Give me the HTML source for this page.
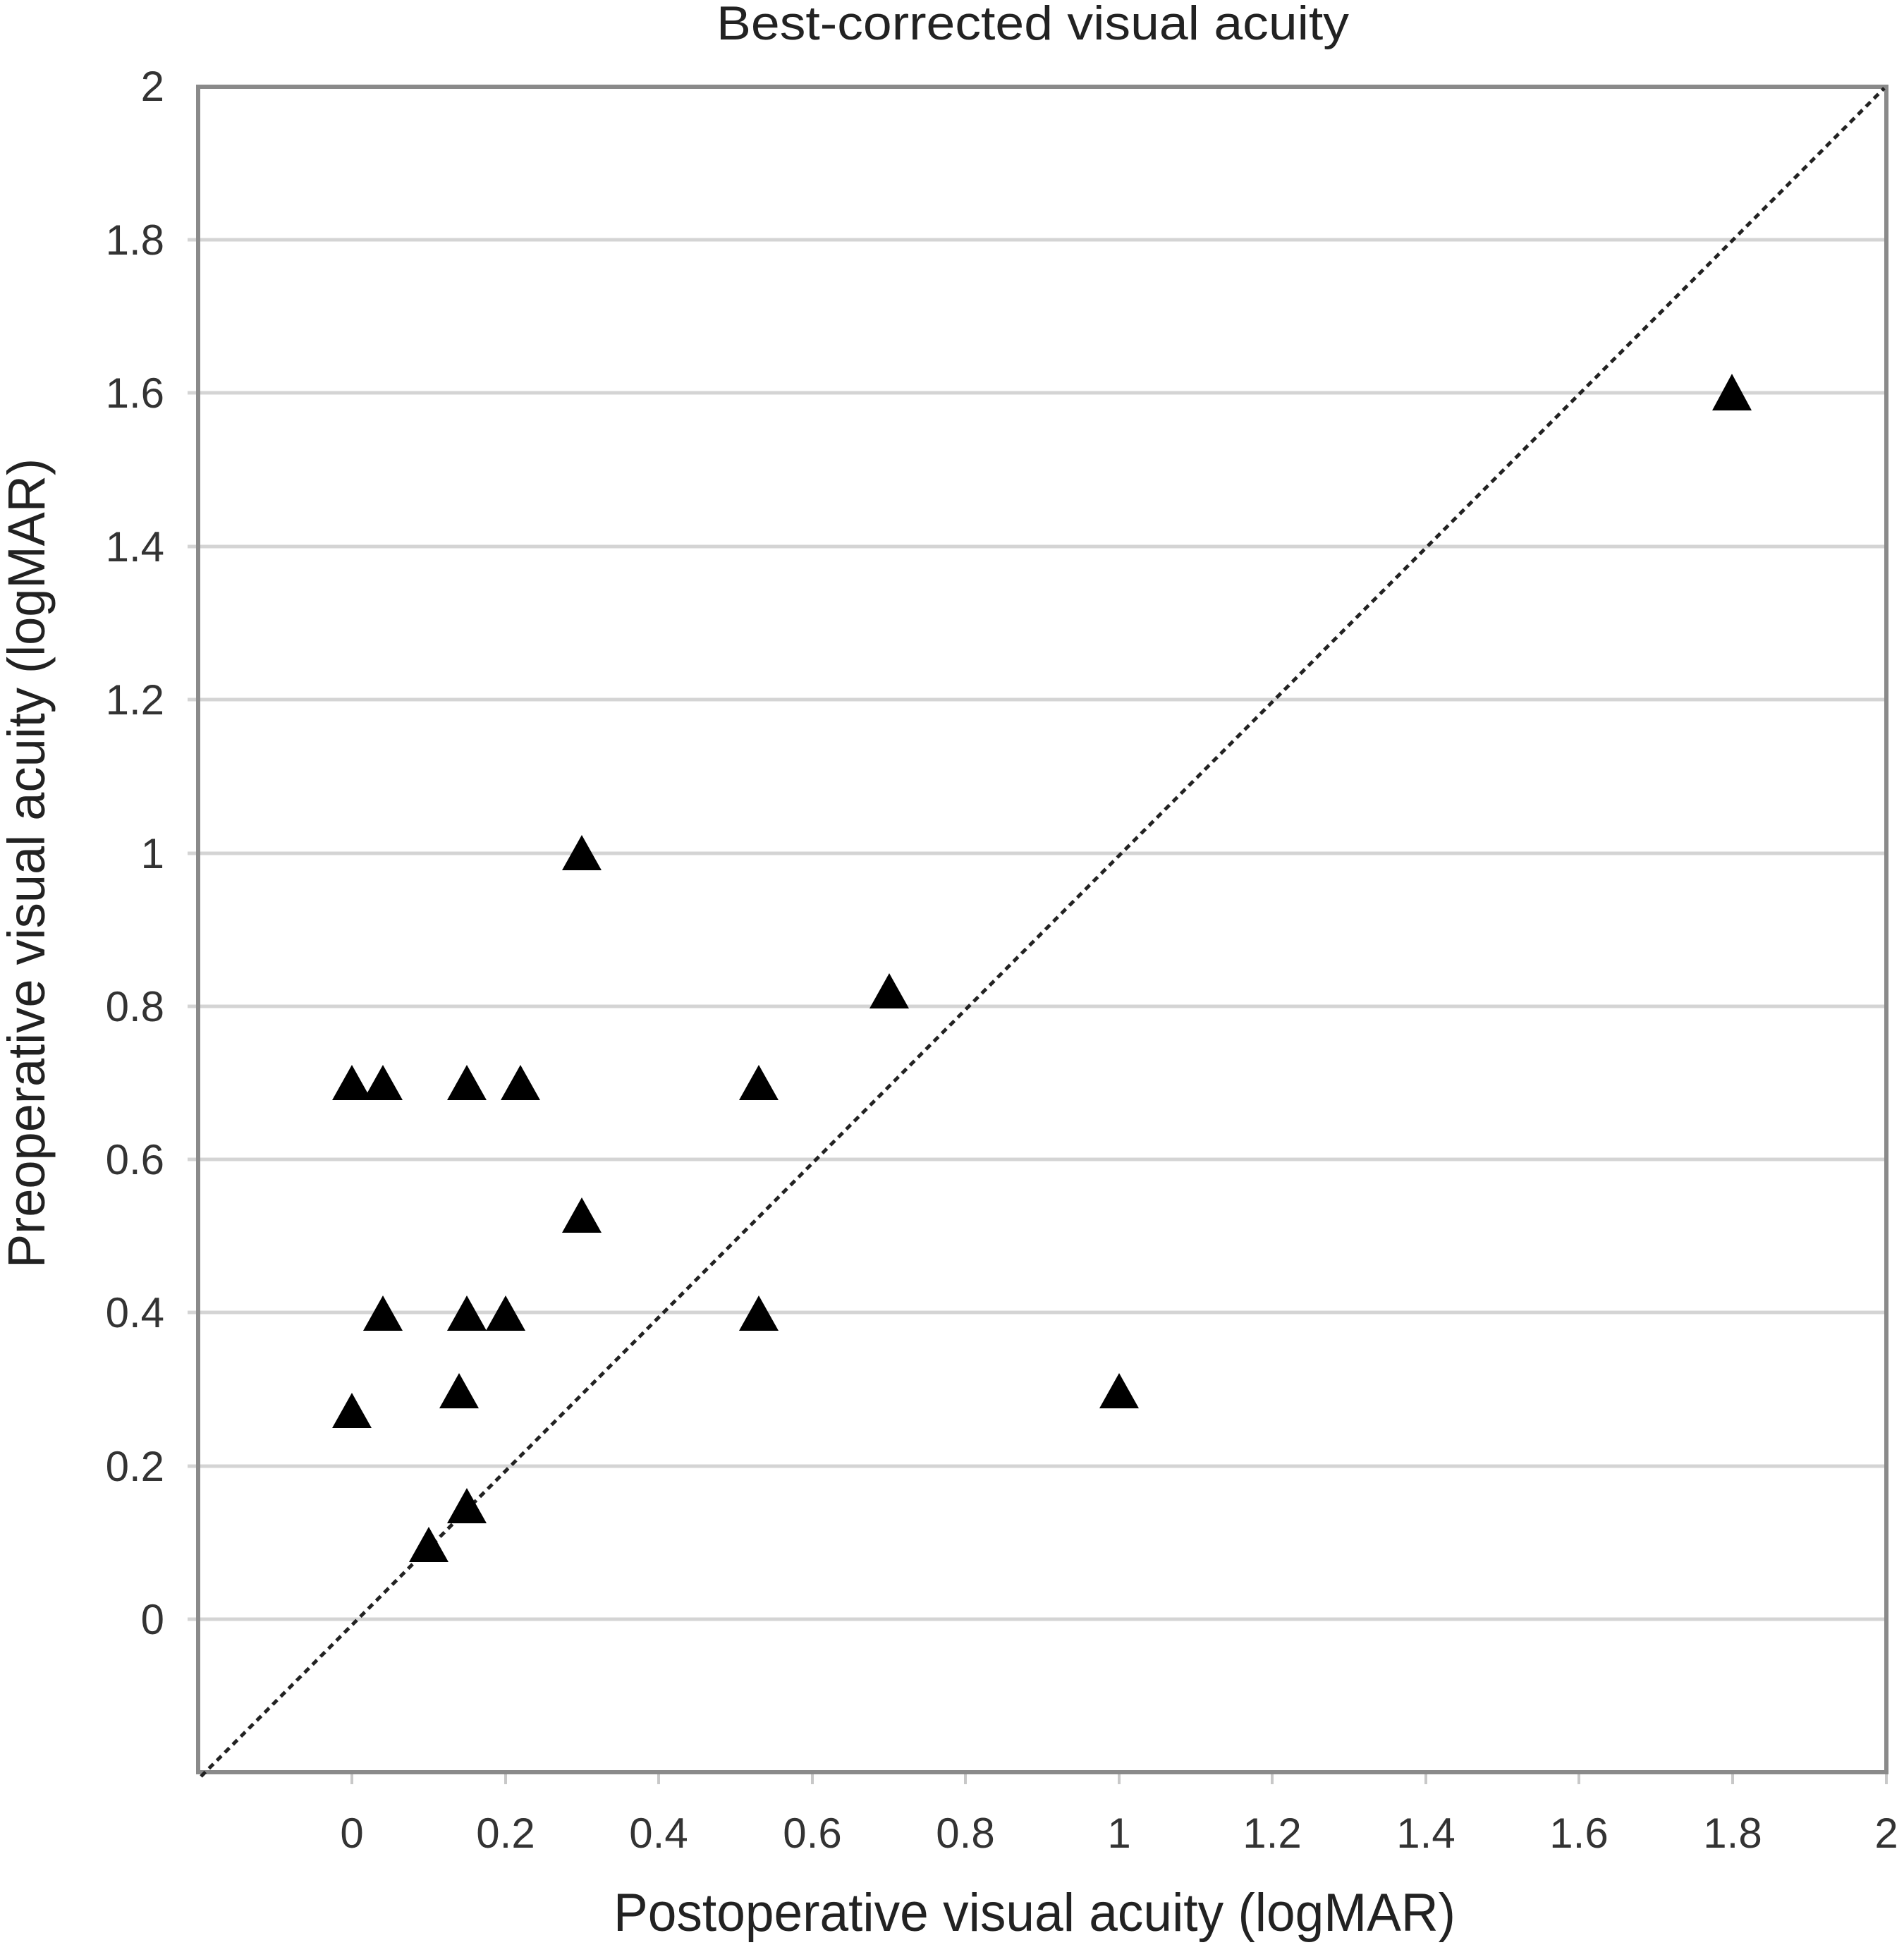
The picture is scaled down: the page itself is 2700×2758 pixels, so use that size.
<!DOCTYPE html>
<html><head><meta charset="utf-8"><style>html,body{margin:0;padding:0;background:#fff}svg{display:block}</style></head>
<body>
<svg width="2700" height="2758" viewBox="0 0 2700 2758" xmlns="http://www.w3.org/2000/svg" font-family="Liberation Sans, sans-serif">
<rect width="2700" height="2758" fill="#fff"/>
<g stroke="#d4d4d4" stroke-width="5">
<line x1="266" y1="340" x2="2675" y2="340"/>
<line x1="266" y1="557" x2="2675" y2="557"/>
<line x1="266" y1="775" x2="2675" y2="775"/>
<line x1="266" y1="992" x2="2675" y2="992"/>
<line x1="266" y1="1210" x2="2675" y2="1210"/>
<line x1="266" y1="1427" x2="2675" y2="1427"/>
<line x1="266" y1="1644" x2="2675" y2="1644"/>
<line x1="266" y1="1861" x2="2675" y2="1861"/>
<line x1="266" y1="2079" x2="2675" y2="2079"/>
<line x1="266" y1="2296" x2="2675" y2="2296"/>
</g>
<g stroke="#c8c8c8" stroke-width="4">
<line x1="499" y1="2513" x2="499" y2="2530"/><line x1="717" y1="2513" x2="717" y2="2530"/><line x1="934" y1="2513" x2="934" y2="2530"/><line x1="1152" y1="2513" x2="1152" y2="2530"/><line x1="1369" y1="2513" x2="1369" y2="2530"/><line x1="1587" y1="2513" x2="1587" y2="2530"/><line x1="1804" y1="2513" x2="1804" y2="2530"/><line x1="2022" y1="2513" x2="2022" y2="2530"/><line x1="2239" y1="2513" x2="2239" y2="2530"/><line x1="2457" y1="2513" x2="2457" y2="2530"/><line x1="2675" y1="2513" x2="2675" y2="2530"/>
</g>
<rect x="281" y="123" width="2394" height="2390" fill="none" stroke="#8a8a8a" stroke-width="6"/>
<line x1="285" y1="2519" x2="2672" y2="125" stroke="#222" stroke-width="5" stroke-dasharray="9 7"/>
<g fill="#000">
<polygon points="2456,530 2484,582 2428,582"/>
<polygon points="825,1184 853,1234 797,1234"/>
<polygon points="1261,1380 1289,1430 1233,1430"/>
<polygon points="499,1510 527,1560 471,1560"/>
<polygon points="543,1510 571,1560 515,1560"/>
<polygon points="662,1510 690,1560 634,1560"/>
<polygon points="738,1510 766,1560 710,1560"/>
<polygon points="1076,1510 1104,1560 1048,1560"/>
<polygon points="825,1698 853,1748 797,1748"/>
<polygon points="543,1837 571,1887 515,1887"/>
<polygon points="662,1837 690,1887 634,1887"/>
<polygon points="717,1837 745,1887 689,1887"/>
<polygon points="1076,1837 1104,1887 1048,1887"/>
<polygon points="499,1975 527,2025 471,2025"/>
<polygon points="651,1947 679,1997 623,1997"/>
<polygon points="1587,1947 1615,1997 1559,1997"/>
<polygon points="662,2110 690,2160 634,2160"/>
<polygon points="608,2165 636,2215 580,2215"/>
</g>
<g font-size="60" fill="#333" text-anchor="end">
<text x="233" y="143">2</text>
<text x="233" y="361">1.8</text>
<text x="233" y="578">1.6</text>
<text x="233" y="796">1.4</text>
<text x="233" y="1013">1.2</text>
<text x="233" y="1231">1</text>
<text x="233" y="1448">0.8</text>
<text x="233" y="1665">0.6</text>
<text x="233" y="1882">0.4</text>
<text x="233" y="2100">0.2</text>
<text x="233" y="2317">0</text>
</g>
<g font-size="60" fill="#333" text-anchor="middle">
<text x="499" y="2620">0</text>
<text x="717" y="2620">0.2</text>
<text x="934" y="2620">0.4</text>
<text x="1152" y="2620">0.6</text>
<text x="1369" y="2620">0.8</text>
<text x="1587" y="2620">1</text>
<text x="1804" y="2620">1.2</text>
<text x="2022" y="2620">1.4</text>
<text x="2239" y="2620">1.6</text>
<text x="2457" y="2620">1.8</text>
<text x="2675" y="2620">2</text>
</g>
<text x="1016" y="56" font-size="68" fill="#222" textLength="897" lengthAdjust="spacingAndGlyphs">Best-corrected visual acuity</text>
<text x="870" y="2738" font-size="76" fill="#222" textLength="1194" lengthAdjust="spacingAndGlyphs">Postoperative visual acuity (logMAR)</text>
<text transform="translate(63,1798) rotate(-90)" font-size="74" fill="#222" textLength="1148" lengthAdjust="spacingAndGlyphs">Preoperative visual acuity (logMAR)</text>
</svg>
</body></html>
